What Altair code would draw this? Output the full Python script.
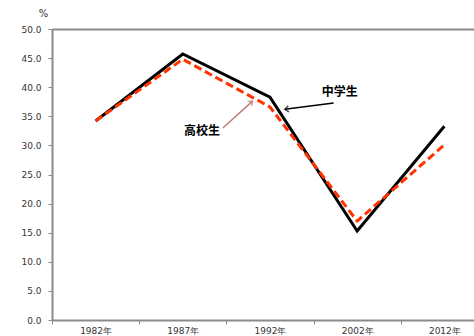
import altair as alt
import pandas as pd

# Survey years and percentages for each school level
years = ["1982年", "1987年", "1992年", "2002年", "2012年"]
junior_high = [34.2, 45.7, 38.3, 15.3, 33.3]   # 中学生
senior_high = [34.2, 44.8, 36.6, 17.0, 30.1]   # 高校生

# Annotation labels and their pointer arrows (x in category index units, y in %)
label_text = ["中学生", "高校生"]
label_x = [2.80, 1.22]
label_y = [39.2, 32.5]
arrow_x = [2.73, 1.46]
arrow_y = [37.3, 33.0]
arrow_x2 = [2.17, 1.80]
arrow_y2 = [36.2, 37.6]
arrow_angle = [353, 138]
arrow_color = ["#000000", "#c27a7a"]

idx = list(range(len(years)))
lines = pd.DataFrame({
    "i": idx * 2,
    "value": junior_high + senior_high,
    "series": ["中学生"] * len(years) + ["高校生"] * len(years),
})
labels = pd.DataFrame({"text": label_text, "x": label_x, "y": label_y})
arrows = pd.DataFrame({
    "x": arrow_x, "y": arrow_y, "x2": arrow_x2, "y2": arrow_y2,
    "angle": arrow_angle, "color": arrow_color,
})

FONT = "DejaVu Sans"
AXIS_GRAY = "#8a8a8a"
xscale = alt.Scale(domain=[-0.5, 4.34], nice=False, zero=False)
yscale = alt.Scale(domain=[0, 50], nice=False, zero=False)
label_expr = "[" + ",".join(f"'{y}'" for y in years) + "][datum.value]"

# Solid black line, carries the y axis and the x tick marks between categories
black = alt.Chart(lines).transform_filter(alt.datum.series == "中学生").mark_line(
    color="black", strokeWidth=3, strokeJoin="miter"
).encode(
    x=alt.X("i:Q", scale=xscale, axis=alt.Axis(
        values=[-0.5, 0.5, 1.5, 2.5, 3.5], labels=False, ticks=True, tickSize=4,
        tickColor=AXIS_GRAY, domain=True, domainColor=AXIS_GRAY, domainWidth=2,
        grid=False, title=None, orient="bottom")),
    y=alt.Y("value:Q", scale=yscale, axis=alt.Axis(
        values=list(range(0, 51, 5)), format=".1f", tickSize=4, tickColor=AXIS_GRAY,
        domainColor=AXIS_GRAY, domainWidth=2, grid=False, labelPadding=7,
        labelFont=FONT, labelFontSize=9, labelColor="#353535",
        title="%", titleAngle=0, titleX=-9, titleY=-11, titleAlign="center",
        titleFont=FONT, titleFontSize=10, titleFontWeight="normal", titleColor="#353535")),
)

# Dashed red line, carries the year labels
red = alt.Chart(lines).transform_filter(alt.datum.series == "高校生").mark_line(
    color="#ff3300", strokeWidth=3, strokeDash=[8, 4], strokeJoin="round"
).encode(
    x=alt.X("i:Q", scale=xscale, axis=alt.Axis(
        values=idx, labelExpr=label_expr, ticks=False, domain=False, grid=False,
        labelPadding=6, labelFont=FONT, labelFontSize=9, labelColor="#353535",
        title=None, orient="bottom")),
    y=alt.Y("value:Q", scale=yscale, axis=None),
)

# Arrow shafts; this layer also draws the top border of the plot frame
shafts = alt.Chart(arrows).mark_rule(strokeWidth=1.5).encode(
    x=alt.X("x:Q", scale=xscale, axis=alt.Axis(
        orient="top", labels=False, ticks=False, grid=False, domain=True,
        domainColor=AXIS_GRAY, domainWidth=2, title=None)),
    y=alt.Y("y:Q", scale=yscale, axis=None),
    x2="x2:Q", y2="y2:Q",
    color=alt.Color("color:N", scale=None),
)

heads = alt.Chart(arrows).mark_point(
    shape="M 1 -0.8 L 0 0 L 1 0.8", filled=False, size=60, strokeWidth=1.5
).encode(
    x=alt.X("x2:Q", scale=xscale, axis=None),
    y=alt.Y("y2:Q", scale=yscale, axis=None),
    angle=alt.Angle("angle:Q", scale=None),
    color=alt.Color("color:N", scale=None),
)

texts = alt.Chart(labels).mark_text(
    font="Noto Sans CJK JP", fontSize=12, fontWeight="bold", color="black"
).encode(
    x=alt.X("x:Q", scale=xscale, axis=None),
    y=alt.Y("y:Q", scale=yscale, axis=None),
    text="text:N",
)

chart = alt.layer(black, red, shafts, heads, texts).resolve_axis(
    x="independent", y="independent"
).properties(
    width=422, height=291,
    autosize=alt.AutoSizeParams(type="none"),
    padding={"left": 52, "top": 29, "right": 0, "bottom": 16},
    background="white",
).configure_view(stroke=None)

chart.save("out.html", embed_options={"renderer": "svg", "actions": False})
